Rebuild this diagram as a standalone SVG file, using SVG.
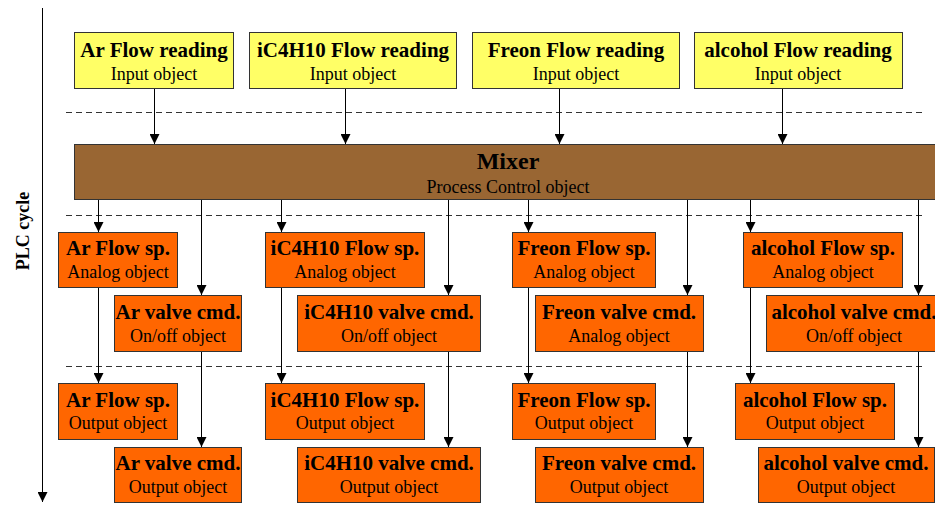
<svg xmlns="http://www.w3.org/2000/svg" width="935" height="505" viewBox="0 0 935 505">
<style>
.box{stroke:#333;stroke-width:1}
.in{fill:#FFFF66}
.mx{fill:#996633}
.or{fill:#FF6600}
.t{font-family:"Liberation Serif","Times New Roman",serif;font-weight:bold;font-size:21px;fill:#000;text-anchor:middle}
.s{font-family:"Liberation Serif","Times New Roman",serif;font-size:18px;fill:#000;text-anchor:middle}
.axis{font-family:"Liberation Serif","Times New Roman",serif;font-weight:bold;font-size:18px;fill:#000;text-anchor:middle}
.dash{stroke:#333;stroke-width:1;stroke-dasharray:6,4;fill:none}
.ca{stroke:#000;stroke-width:1;fill:none;marker-end:url(#ah)}
</style>
<defs>
<marker id="ah" viewBox="0 0 10 10" refX="10" refY="5" markerWidth="10" markerHeight="10" markerUnits="userSpaceOnUse" orient="auto">
<path d="M0,0 L10,5 L0,10 z" fill="#000"/>
</marker>
</defs>
<rect width="935" height="505" fill="#fff"/>
<g id="separators">
<line class="dash" x1="66" y1="112.5" x2="926" y2="112.5"/>
<line class="dash" x1="66" y1="215.5" x2="926" y2="215.5"/>
<line class="dash" x1="66" y1="366.5" x2="926" y2="366.5"/>
</g>
<g id="plc-axis">
<line class="ca" x1="42.5" y1="8" x2="42.5" y2="502"/>
<text class="axis" transform="translate(29,231) rotate(-90)">PLC cycle</text>
</g>
<g id="connectors">
<line class="ca" x1="154.5" y1="88" x2="154.5" y2="144"/>
<line class="ca" x1="345.5" y1="88" x2="345.5" y2="144"/>
<line class="ca" x1="559.5" y1="88" x2="559.5" y2="144"/>
<line class="ca" x1="782.5" y1="88" x2="782.5" y2="144"/>
<line class="ca" x1="98.5" y1="199" x2="98.5" y2="232"/>
<line class="ca" x1="201.5" y1="199" x2="201.5" y2="295"/>
<line class="ca" x1="281.5" y1="199" x2="281.5" y2="232"/>
<line class="ca" x1="448.5" y1="199" x2="448.5" y2="295"/>
<line class="ca" x1="528.5" y1="199" x2="528.5" y2="232"/>
<line class="ca" x1="687.5" y1="199" x2="687.5" y2="295"/>
<line class="ca" x1="750.5" y1="199" x2="750.5" y2="232"/>
<line class="ca" x1="918.5" y1="199" x2="918.5" y2="295"/>
<line class="ca" x1="98.5" y1="287" x2="98.5" y2="383"/>
<line class="ca" x1="201.5" y1="351" x2="201.5" y2="447"/>
<line class="ca" x1="281.5" y1="287" x2="281.5" y2="383"/>
<line class="ca" x1="448.5" y1="351" x2="448.5" y2="447"/>
<line class="ca" x1="528.5" y1="287" x2="528.5" y2="383"/>
<line class="ca" x1="687.5" y1="351" x2="687.5" y2="447"/>
<line class="ca" x1="750.5" y1="287" x2="750.5" y2="383"/>
<line class="ca" x1="918.5" y1="351" x2="918.5" y2="447"/>
</g>
<g id="ar-reading"><rect class="box in" x="74.5" y="32.5" width="159" height="56"/><text class="t" x="154" y="57">Ar Flow reading</text><text class="s" x="154" y="80">Input object</text></g>
<g id="ic4h10-reading"><rect class="box in" x="249.5" y="32.5" width="207" height="56"/><text class="t" x="353" y="57">iC4H10 Flow reading</text><text class="s" x="353" y="80">Input object</text></g>
<g id="freon-reading"><rect class="box in" x="472.5" y="32.5" width="207" height="56"/><text class="t" x="576" y="57">Freon Flow reading</text><text class="s" x="576" y="80">Input object</text></g>
<g id="alcohol-reading"><rect class="box in" x="694.5" y="32.5" width="208" height="56"/><text class="t" x="798" y="57">alcohol Flow reading</text><text class="s" x="798" y="80">Input object</text></g>
<g id="mixer"><rect class="box mx" x="74.5" y="144.5" width="870" height="55"/><text class="t" x="508" y="169" style="font-size:24px">Mixer</text><text class="s" x="508" y="193">Process Control object</text></g>
<g id="ar-sp"><rect class="box or" x="58.5" y="232.5" width="119" height="55"/><text class="t" x="118" y="255">Ar Flow sp.</text><text class="s" x="118" y="278">Analog object</text></g>
<g id="ic4h10-sp"><rect class="box or" x="265.5" y="232.5" width="159" height="55"/><text class="t" x="345" y="255">iC4H10 Flow sp.</text><text class="s" x="345" y="278">Analog object</text></g>
<g id="freon-sp"><rect class="box or" x="512.5" y="232.5" width="143" height="55"/><text class="t" x="584" y="255">Freon Flow sp.</text><text class="s" x="584" y="278">Analog object</text></g>
<g id="alcohol-sp"><rect class="box or" x="743.5" y="232.5" width="159" height="55"/><text class="t" x="823" y="255">alcohol Flow sp.</text><text class="s" x="823" y="278">Analog object</text></g>
<g id="ar-valve"><rect class="box or" x="114.5" y="295.5" width="127" height="56"/><text class="t" x="178" y="319">Ar valve cmd.</text><text class="s" x="178" y="342">On/off object</text></g>
<g id="ic4h10-valve"><rect class="box or" x="297.5" y="295.5" width="183" height="56"/><text class="t" x="389" y="319">iC4H10 valve cmd.</text><text class="s" x="389" y="342">On/off object</text></g>
<g id="freon-valve"><rect class="box or" x="535.5" y="295.5" width="168" height="56"/><text class="t" x="619" y="319">Freon valve cmd.</text><text class="s" x="619" y="342">Analog object</text></g>
<g id="alcohol-valve"><rect class="box or" x="766.5" y="295.5" width="176" height="56"/><text class="t" x="854" y="319">alcohol valve cmd.</text><text class="s" x="854" y="342">On/off object</text></g>
<g id="ar-sp-out"><rect class="box or" x="58.5" y="383.5" width="119" height="56"/><text class="t" x="118" y="407">Ar Flow sp.</text><text class="s" x="118" y="429">Output object</text></g>
<g id="ic4h10-sp-out"><rect class="box or" x="265.5" y="383.5" width="159" height="56"/><text class="t" x="345" y="407">iC4H10 Flow sp.</text><text class="s" x="345" y="429">Output object</text></g>
<g id="freon-sp-out"><rect class="box or" x="512.5" y="383.5" width="143" height="56"/><text class="t" x="584" y="407">Freon Flow sp.</text><text class="s" x="584" y="429">Output object</text></g>
<g id="alcohol-sp-out"><rect class="box or" x="735.5" y="383.5" width="159" height="56"/><text class="t" x="815" y="407">alcohol Flow sp.</text><text class="s" x="815" y="429">Output object</text></g>
<g id="ar-valve-out"><rect class="box or" x="114.5" y="447.5" width="127" height="55"/><text class="t" x="178" y="470">Ar valve cmd.</text><text class="s" x="178" y="493">Output object</text></g>
<g id="ic4h10-valve-out"><rect class="box or" x="297.5" y="447.5" width="183" height="55"/><text class="t" x="389" y="470">iC4H10 valve cmd.</text><text class="s" x="389" y="493">Output object</text></g>
<g id="freon-valve-out"><rect class="box or" x="535.5" y="447.5" width="168" height="55"/><text class="t" x="619" y="470">Freon valve cmd.</text><text class="s" x="619" y="493">Output object</text></g>
<g id="alcohol-valve-out"><rect class="box or" x="758.5" y="447.5" width="176" height="55"/><text class="t" x="846" y="470">alcohol valve cmd.</text><text class="s" x="846" y="493">Output object</text></g>
</svg>
